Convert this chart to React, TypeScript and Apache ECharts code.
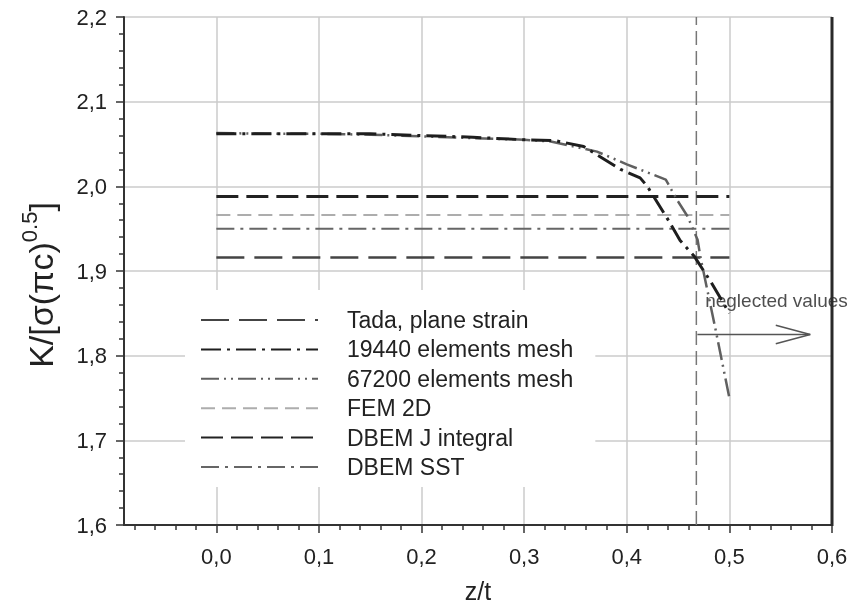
import React, { useEffect, useRef } from "react";
import * as echarts from "echarts";

const FONT = "Liberation Sans, Arial, sans-serif";

// Axis ticks
const X_MAJOR = [0, 0.1, 0.2, 0.3, 0.4, 0.5, 0.6];
const X_MIN = -0.09;
const X_MAX = 0.6;
const Y_MIN = 1.6;
const Y_MAX = 2.2;

// Reference (horizontal) solutions, drawn from z/t = 0 to 0.5
const refX = [0, 0.5];
const tadaValue = 1.916;
const femValue = 1.966;
const dbemJValue = 1.988;
const dbemSSTValue = 1.95;

// 19440 elements mesh
const mesh19440X = [0, 0.05, 0.1, 0.15, 0.2, 0.25, 0.3, 0.33, 0.358, 0.394, 0.413, 0.42, 0.44, 0.452, 0.466, 0.482, 0.5];
const mesh19440Y = [2.062, 2.062, 2.062, 2.062, 2.06, 2.058, 2.055, 2.054, 2.047, 2.02, 2.01, 2.0, 1.961, 1.936, 1.917, 1.887, 1.85];

// 67200 elements mesh
const mesh67200X = [0, 0.05, 0.1, 0.15, 0.2, 0.25, 0.3, 0.326, 0.371, 0.4, 0.438, 0.449, 0.459, 0.469, 0.472, 0.486, 0.5];
const mesh67200Y = [2.063, 2.062, 2.062, 2.061, 2.059, 2.057, 2.055, 2.053, 2.041, 2.026, 2.008, 1.984, 1.965, 1.937, 1.915, 1.834, 1.75];

// Annotation: limit of validity
const limitX = 0.4678;
const arrowShaft = [[0.4688, 1.825], [0.5788, 1.825]];
const arrowHead = [[0.5452, 1.836], [0.5788, 1.825], [0.5452, 1.814]];
const noteAt = [0.4759, 1.865];
const noteText = "neglected values";

const zip = (xs: number[], ys: number[]) => xs.map((x, i) => [x, ys[i]]);
const flat = (v: number) => refX.map((x) => [x, v]);
const fmt = (v: number) => v.toFixed(1).replace(".", ",");

const minorX: number[] = [];
for (let k = -4; k <= 30; k++) {
  const v = k * 0.02;
  if (Math.abs(v * 10 - Math.round(v * 10)) > 1e-6) minorX.push(Number(v.toFixed(2)));
}

export default function App() {
  const ref = useRef<HTMLDivElement>(null);
  useEffect(() => {
    if (!ref.current) return;
    const chart = echarts.init(ref.current, undefined, { renderer: "svg" });
    const axisColor = "#333";
    const gridColor = "#cbcbcb";
    const lineSeries = (name: string, data: number[][], color: string, width: number, type: any, z = 3) => ({
      name,
      type: "line",
      data,
      symbol: "none",
      smooth: false,
      z,
      lineStyle: { color, width, type },
      itemStyle: { color },
    });
    chart.setOption({
      animation: false,
      textStyle: { fontFamily: FONT },
      grid: { left: 124, right: 20, top: 17, bottom: 83, containLabel: false },
      legend: {
        orient: "vertical",
        left: 185,
        top: 290,
        data: ["Tada, plane strain", "19440 elements mesh", "67200 elements mesh", "FEM 2D", "DBEM J integral", "DBEM SST"],
        backgroundColor: "#ffffff",
        padding: [18, 22, 8, 15],
        itemWidth: 117,
        itemHeight: 14,
        itemGap: 5.4,
        itemStyle: { opacity: 0 },
        textStyle: { fontSize: 23, color: "#222", fontFamily: FONT, lineHeight: 24, padding: [0, 0, 0, 24] },
        selectedMode: false,
      },
      xAxis: [
        {
          type: "value",
          min: X_MIN,
          max: X_MAX,
          position: "bottom",
          name: "z/t",
          nameLocation: "middle",
          nameGap: 53,
          nameTextStyle: { fontSize: 25, color: "#222", fontFamily: FONT },
          axisLine: { show: true, onZero: false, lineStyle: { color: axisColor, width: 2 } },
          axisTick: { show: true, customValues: X_MAJOR, length: 8, lineStyle: { color: axisColor, width: 1.5 } },
          axisLabel: { customValues: X_MAJOR, formatter: fmt, fontSize: 22, color: "#222", margin: 20, fontFamily: FONT },
          splitLine: { show: true, lineStyle: { color: gridColor, width: 1.5 } },
        },
        {
          type: "value",
          min: X_MIN,
          max: X_MAX,
          position: "bottom",
          axisLine: { show: false, onZero: false },
          axisTick: { show: true, customValues: minorX, length: 5, lineStyle: { color: axisColor, width: 1.5 } },
          axisLabel: { show: false },
          splitLine: { show: false },
        },
      ],
      yAxis: [
        {
          type: "value",
          min: Y_MIN,
          max: Y_MAX,
          interval: 0.1,
          name: "{a|K/[σ(πc)}{b|0.5}{a|]}",
          nameLocation: "middle",
          nameGap: 66,
          nameRotate: 90,
          nameTextStyle: {
            padding: [0, 28, 0, 0],
            rich: {
              a: { fontSize: 34, color: "#222", fontFamily: FONT, lineHeight: 40, verticalAlign: "bottom" },
              b: { fontSize: 22, color: "#222", fontFamily: FONT, verticalAlign: "top" },
            },
          },
          axisLine: { show: true, onZero: false, lineStyle: { color: axisColor, width: 2 } },
          axisTick: { show: true, length: 8, lineStyle: { color: axisColor, width: 1.5 } },
          minorTick: { show: true, splitNumber: 5, length: 5, lineStyle: { color: axisColor, width: 1.5 } },
          axisLabel: { formatter: fmt, fontSize: 22, color: "#222", margin: 17, fontFamily: FONT },
          splitLine: { show: true, lineStyle: { color: gridColor, width: 1.5 } },
          minorSplitLine: { show: false },
        },
      ],
      series: [
        lineSeries("Tada, plane strain", flat(tadaValue), "#444", 2.5, [28, 10]),
        lineSeries("19440 elements mesh", zip(mesh19440X, mesh19440Y), "#1e1e1e", 3, [20, 6, 3, 6], 5),
        lineSeries("67200 elements mesh", zip(mesh67200X, mesh67200Y), "#606060", 2.5, [18, 5, 2, 5, 2, 5], 4),
        lineSeries("FEM 2D", flat(femValue), "#adadad", 2, [14, 7]),
        lineSeries("DBEM J integral", flat(dbemJValue), "#222", 3, [22, 8]),
        lineSeries("DBEM SST", flat(dbemSSTValue), "#666", 2, [18, 6, 3, 6]),
        {
          name: "limit",
          type: "line",
          data: [[limitX, Y_MIN], [limitX, Y_MAX]],
          symbol: "none",
          silent: true,
          z: 2,
          lineStyle: { color: "#777", width: 1.5, type: [14, 6] },
        },
        {
          name: "arrowShaft",
          type: "line",
          data: arrowShaft,
          symbol: "none",
          silent: true,
          lineStyle: { color: "#555", width: 1.5, type: "solid" },
        },
        {
          name: "arrowHead",
          type: "line",
          data: arrowHead,
          symbol: "none",
          silent: true,
          lineStyle: { color: "#555", width: 1.5, type: "solid" },
        },
        {
          name: "note",
          type: "scatter",
          data: [noteAt],
          symbolSize: 1,
          silent: true,
          itemStyle: { color: "rgba(0,0,0,0)" },
          label: {
            show: true,
            position: "right",
            distance: 0,
            formatter: noteText,
            fontSize: 19,
            color: "#222",
            fontFamily: FONT,
          },
        },
      ],
    });
    // Right frame line of the plot area, placed through the axes' own scales
    const p0 = chart.convertToPixel({ gridIndex: 0 }, [X_MAX, Y_MIN]) as number[];
    const p1 = chart.convertToPixel({ gridIndex: 0 }, [X_MAX, Y_MAX]) as number[];
    chart.setOption({
      graphic: [
        {
          type: "rect",
          z: 100,
          silent: true,
          shape: { x: p0[0] - 1.5, y: p1[1], width: 3, height: p0[1] - p1[1] + 1 },
          style: { fill: "#2a2a2a" },
        },
      ],
    });
    return () => chart.dispose();
  }, []);
  return <div ref={ref} style={{ position: "fixed", left: 0, top: 0, width: 852, height: 608 }} />;
}
